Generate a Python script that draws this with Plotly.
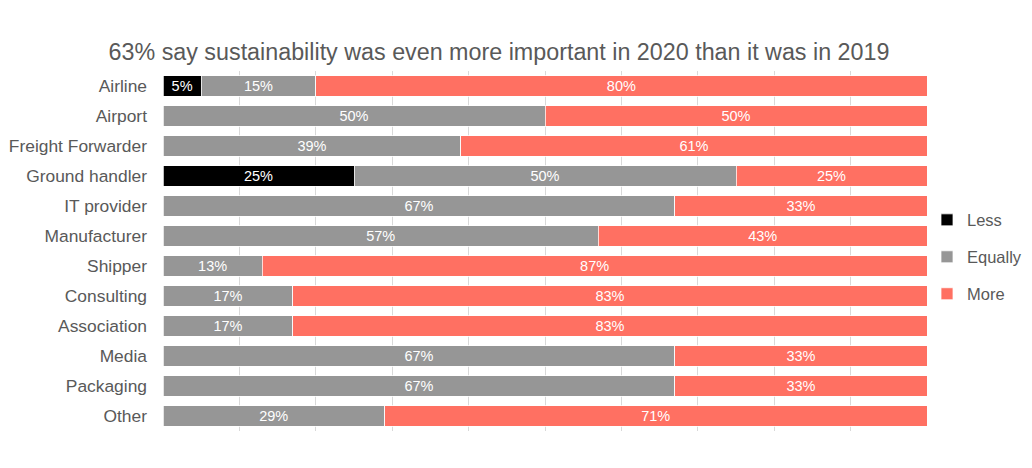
import plotly.graph_objects as go

categories = ["Airline", "Airport", "Freight Forwarder", "Ground handler", "IT provider",
              "Manufacturer", "Shipper", "Consulting", "Association", "Media", "Packaging", "Other"]
less = [5, 0, 0, 25, 0, 0, 0, 0, 0, 0, 0, 0]
equally = [15, 50, 39, 50, 67, 57, 13, 17, 17, 67, 67, 29]
more = [80, 50, 61, 25, 33, 43, 87, 83, 83, 33, 33, 71]
title_text = "63% say sustainability was even more important in 2020 than it was in 2019"

series = [("Less", less, "#000000"), ("Equally", equally, "#969696"), ("More", more, "#FF7062")]

FONT = "Liberation Sans, Arial, sans-serif"

fig = go.Figure()
for i, (name, vals, col) in enumerate(series):
    fig.add_trace(go.Bar(
        y=categories, x=vals, name=name, orientation="h",
        marker=dict(color=col, line=dict(color="#FFFFFF", width=0.75)),
        text=[f"{v}%" if v else "" for v in vals],
        textposition="inside", insidetextanchor="middle",
        textfont=dict(color="#FFFFFF", size=14.5, family=FONT),
        constraintext="none", textangle=0,
        legendgroup=f"g{i}",
        hoverinfo="x+y+name",
    ))

fig.update_layout(
    barmode="stack",
    bargap=0.33,
    width=1032, height=468,
    plot_bgcolor="#FFFFFF", paper_bgcolor="#FFFFFF",
    margin=dict(l=163, r=105, t=71, b=37, autoexpand=False),
    font=dict(family=FONT, color="#595959"),
    title=dict(text=title_text, x=499 / 1032, xref="container", xanchor="center",
               y=1 - 52 / 468, yref="container", yanchor="middle",
               font=dict(size=23.3, color="#595959")),
    xaxis=dict(range=[0, 100], dtick=10, showticklabels=False, showgrid=True,
               gridcolor="#D9D9D9", gridwidth=1, zeroline=False, showline=False,
               fixedrange=True),
    yaxis=dict(autorange="reversed", tickfont=dict(size=17.4, color="#595959"),
               ticks="", showgrid=False, ticklabelstandoff=15, automargin=False),
    legend=dict(x=1.0, xanchor="left", y=0.483, yanchor="middle",
                font=dict(size=16.5, color="#595959"),
                tracegroupgap=12.5, itemwidth=30),
    showlegend=True,
)

fig.write_html("out.html", config={"displayModeBar": False},
               post_script="document.body.style.margin='0';document.body.style.padding='0';")
